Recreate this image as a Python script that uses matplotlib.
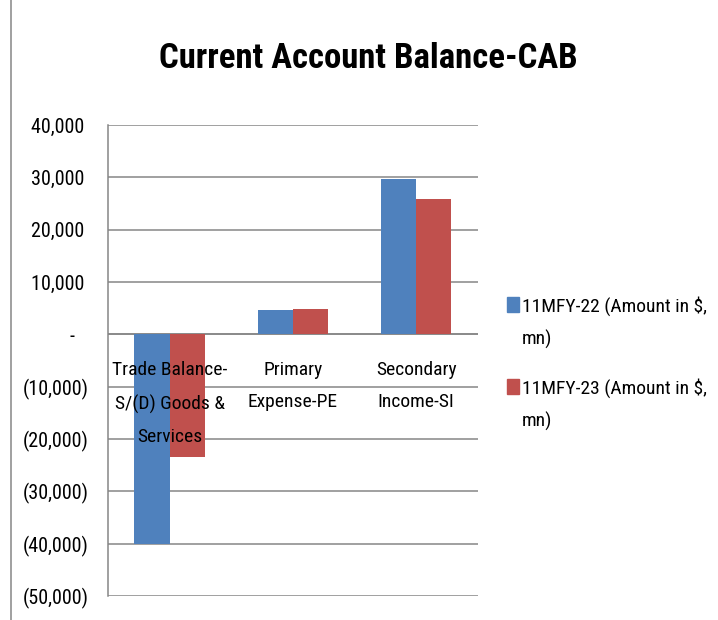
import matplotlib.pyplot as plt
import numpy as np
from matplotlib import font_manager
from matplotlib.lines import Line2D
from matplotlib.patches import Rectangle
from matplotlib.ticker import FixedLocator, FuncFormatter

# values (USD mn)
categories = ["Trade Balance-\nS/(D) Goods &\nServices", "Primary\nExpense-PE", "Secondary\nIncome-SI"]
fy22 = [-40000, 4600, 29700]
fy23 = [-23500, 4900, 25800]
series_names = ["11MFY-22 (Amount in $,\nmn)", "11MFY-23 (Amount in $,\nmn)"]
series_colors = ["#4F81BD", "#C0504D"]
yticks = [40000, 30000, 20000, 10000, 0, -10000, -20000, -30000, -40000, -50000]

# Calibri-like narrow face if there is one, else Arial metrics
have = {f.name for f in font_manager.fontManager.ttflist}
narrow = [n for n in ["Liberation Sans Narrow", "DejaVu Sans Condensed", "Roboto Condensed",
                      "Open Sans Condensed"] if n in have]
if narrow:
    fam = [narrow[0], "DejaVu Sans"]
    fs, fs_title = 14, 25
else:
    fam = ["Liberation Sans", "DejaVu Sans"]
    fs, fs_title = 12.5, 21
plt.rcParams['font.family'] = fam

W, H = 718, 620
fig = plt.figure(figsize=(W / 100, H / 100), dpi=100)
ax = fig.add_axes([0.1504, 0.0387, 0.515, 0.7597])

x = np.arange(len(categories))
w = 0.285
ax.bar(x - w / 2, fy22, w, color=series_colors[0], zorder=3)
ax.bar(x + w / 2, fy23, w, color=series_colors[1], zorder=3)

ax.set_xlim(-0.5, len(categories) - 0.5)
ax.set_ylim(-50000, 40000)


def acct(v, pos):
    if v == 0:
        return "-   "
    if v < 0:
        return "({:,.0f})".format(-v)
    return "{:,.0f}\u2009".format(v)


ax.yaxis.set_major_locator(FixedLocator(yticks))
ax.yaxis.set_major_formatter(FuncFormatter(acct))
ax.tick_params(axis="y", length=0, pad=14, labelsize=fs + 0.5, colors="#000000")
ax.set_xticks([])
ax.grid(axis="y", color="#868686", linewidth=1.1, zorder=0)
for s in ["top", "right", "bottom"]:
    ax.spines[s].set_visible(False)
ax.spines["left"].set_color("#868686")
ax.spines["left"].set_linewidth(1.1)
ax.axhline(0, color="#868686", linewidth=1.1, zorder=2)

# category labels sit just under the zero line, like Excel does
for i, c in enumerate(categories):
    ax.annotate(c, xy=(x[i], 0), xytext=(0, -19), textcoords="offset points",
                ha="center", va="top", fontsize=fs, linespacing=2.05, zorder=4)

fig.text(0.513, 0.906, "Current Account Balance-CAB", ha="center", va="center",
         fontsize=fs_title, fontweight="bold")

# legend, square lined up with the first text line
leg_tops = [296, 378]
for name, col, top in zip(series_names, series_colors, leg_tops):
    fig.add_artist(Rectangle((507 / W, 1 - (top + 16) / H), 12 / W, 15 / H,
                             transform=fig.transFigure, color=col))
    fig.text(522 / W, 1 - top / H, name, ha="left", va="top", fontsize=fs,
             linespacing=1.95)

# outer chart border on the left
fig.add_artist(Line2D([11 / W, 11 / W], [0, 1], color="#868686", linewidth=1.1))

fig.savefig("out.png", dpi=100)
